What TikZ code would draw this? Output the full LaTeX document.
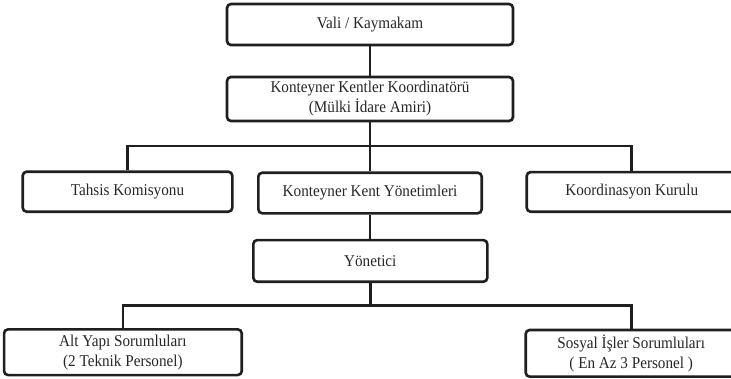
\documentclass[tikz,border=0pt]{standalone}
\usepackage{fontspec}
\setmainfont{Liberation Serif}[FakeStretch=0.92]
\begin{document}
\begin{tikzpicture}[x=1pt,y=-1pt,
  box/.style={draw=black!88, line width=2.6pt, rounded corners=4pt, inner sep=0pt,
    align=center, font=\fontsize{16.5}{20}\selectfont, text=black!85},
  link/.style={draw=black!88, line width=2.6pt}]
\useasboundingbox (0,0) rectangle (731,378);
\node[box, minimum width=286pt, minimum height=41pt] (vali) at (370,24.5) {Vali / Kaymakam};
\node[box, minimum width=286pt, minimum height=44pt] (koordinator) at (370,99) {Konteyner Kentler Koordinatörü\\(Mülki İdare Amiri)};
\node[box, minimum width=209.6pt, minimum height=40pt] (tahsis) at (127.5,191.7) {Tahsis Komisyonu};
\node[box, minimum width=223.4pt, minimum height=40.6pt] (kent) at (370,193) {Konteyner Kent Yönetimleri};
\node[box, minimum width=210pt, minimum height=39.7pt] (kurul) at (631.7,191.9) {Koordinasyon Kurulu};
\node[box, minimum width=234pt, minimum height=41.7pt] (yonetici) at (370.3,260.9) {Yönetici};
\node[box, minimum width=237.7pt, minimum height=45.7pt] (altyapi) at (122.9,352.2) {Alt Yapı Sorumluları\\(2 Teknik Personel)};
\node[box, minimum width=211pt, minimum height=46.7pt] (sosyal) at (631.2,353.3) {Sosyal İşler Sorumluları\\( En Az 3 Personel )};
\coordinate (bus1) at (370,146);
\coordinate (bus2) at (370.3,305.5);
\draw[link] (vali.south) -- (koordinator.north);
\draw[link] (koordinator.south) -- (bus1) -- (kent.north);
\draw[link] (tahsis.north) |- (bus1) -| (kurul.north);
\draw[link] (kent.south) -- (kent.south |- yonetici.north);
\draw[link] (yonetici.south) -- (bus2);
\draw[link] (altyapi.north) |- (bus2) -| (sosyal.north);
\end{tikzpicture}
\end{document}
